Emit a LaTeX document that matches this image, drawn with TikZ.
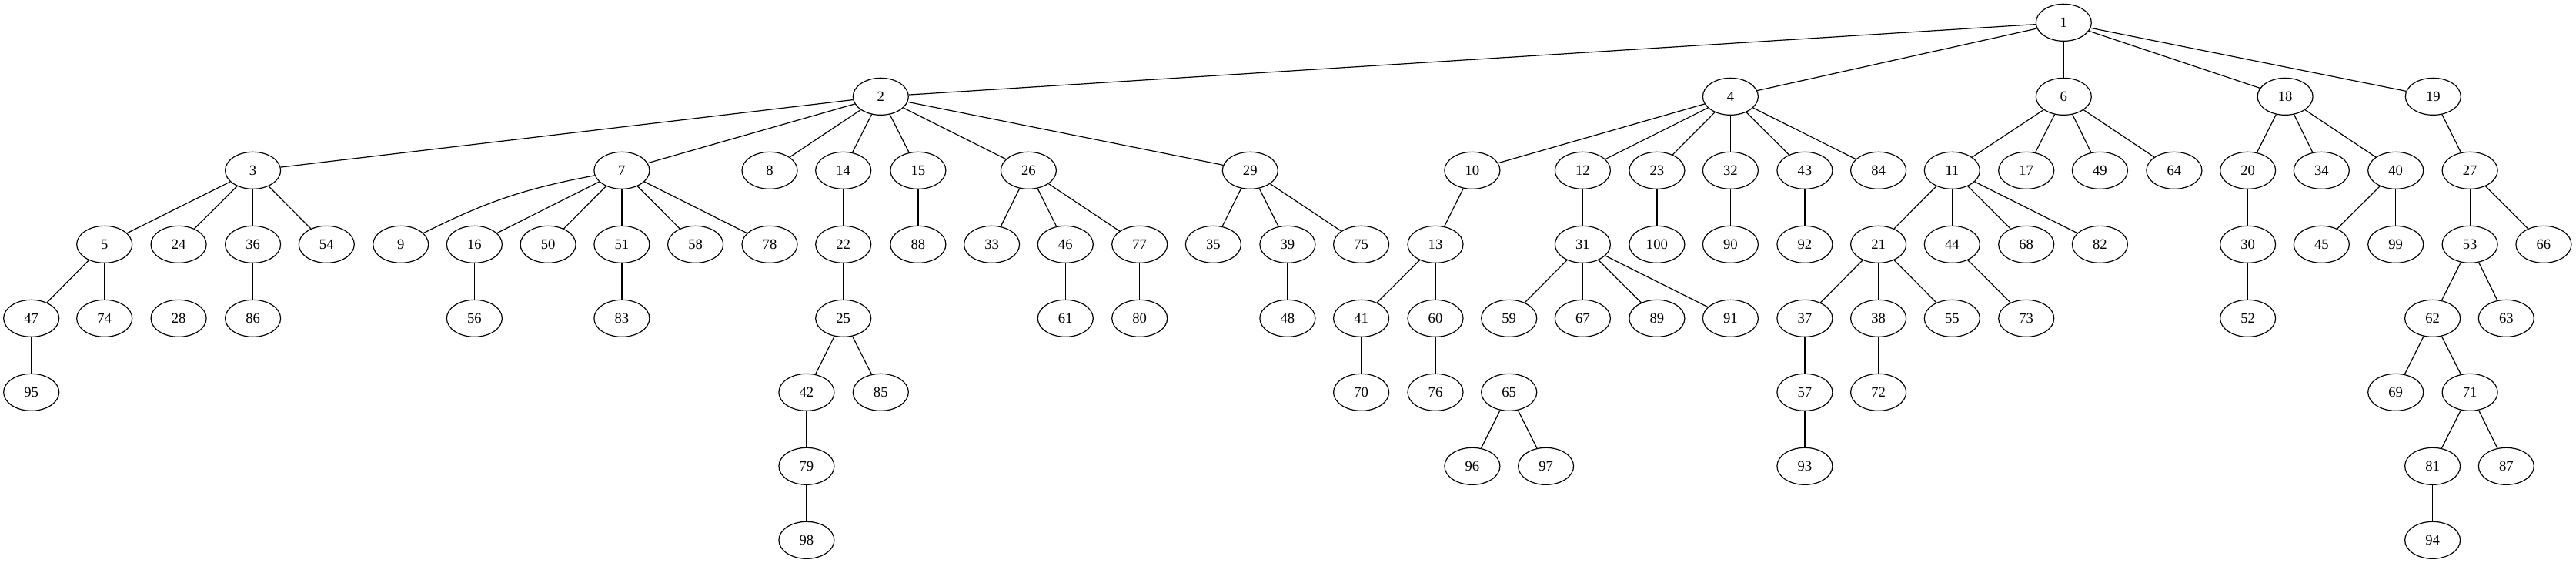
\documentclass[tikz,border=0pt]{standalone}
\usepackage{fontspec}
\setmainfont{Liberation Serif}
\usetikzlibrary{shapes.geometric}
\tikzset{
  gv/.style={ellipse, draw, line width=0.9pt, minimum width=54pt, minimum height=36pt, inner sep=0pt, font=\fontsize{14}{16}\selectfont},
  gvedge/.style={line width=0.9pt}
}
\begin{document}
\begin{tikzpicture}[x=0.75pt, y=-72pt]
\useasboundingbox (0,-0.30556) rectangle (3347,7.3090);
% rank 0
\node[gv] (n1) at (2681.3,0) {1};
% rank 1
\foreach \n/\x in {2/1144.3, 4/2248.4, 6/2681.3, 18/2969.1, 19/3161.3}
  \node[gv] (n\n) at (\x,1) {\n};
% rank 2
\foreach \n/\x in {3/328.6, 7/807.9, 8/1000, 14/1095.7, 15/1192.9, 26/1336.4, 29/1624.3, 10/1912.9, 12/2056.4, 23/2152.9, 32/2248.4, 43/2344.9, 84/2440.6, 11/2536.3, 17/2632.7, 49/2728.4, 64/2824.9, 20/2920.6, 34/3016.3, 40/3112.7, 27/3209.1}
  \node[gv] (n\n) at (\x,2) {\n};
% rank 3
\foreach \n/\x in {5/135.7, 24/232.1, 36/328.6, 54/424.3, 9/520.7, 16/616.4, 50/712.1, 51/807.9, 58/903.6, 78/1000, 22/1095.7, 88/1192.9, 33/1288.6, 46/1384.3, 77/1480.7, 35/1576.4, 39/1672.9, 75/1768.6, 13/1865, 31/2056.4, 100/2152.9, 90/2248.4, 92/2344.9, 21/2440.6, 44/2536.3, 68/2632.7, 82/2728.4, 30/2920.6, 45/3016.3, 99/3112.7, 53/3209.1, 66/3304.9}
  \node[gv] (n\n) at (\x,3) {\n};
% rank 4
\foreach \n/\x in {47/40.7, 74/135.7, 28/232.1, 86/328.6, 56/616.4, 83/807.9, 25/1095.7, 61/1384.3, 80/1480.7, 48/1672.9, 41/1768.6, 60/1865, 59/1960.7, 67/2056.4, 89/2152.9, 91/2248.4, 37/2344.9, 38/2440.6, 55/2536.3, 73/2632.7, 52/2920.6, 62/3160.6, 63/3256.3}
  \node[gv] (n\n) at (\x,4) {\n};
% rank 5
\foreach \n/\x in {95/40.7, 42/1047.9, 85/1144.3, 70/1768.6, 76/1865, 65/1960.7, 57/2344.9, 72/2440.6, 69/3112.7, 71/3209.1}
  \node[gv] (n\n) at (\x,5) {\n};
% rank 6
\foreach \n/\x in {79/1047.9, 96/1912.9, 97/2008.6, 93/2344.9, 81/3160.6, 87/3256.3}
  \node[gv] (n\n) at (\x,6) {\n};
% rank 7
\foreach \n/\x in {98/1047.9, 94/3160.6}
  \node[gv] (n\n) at (\x,7) {\n};
% edges
\foreach \a/\b in {1/2, 1/4, 1/6, 1/18, 1/19,
  2/3, 2/7, 2/8, 2/14, 2/15, 2/26, 2/29,
  3/5, 3/24, 3/36, 3/54, 5/47, 5/74, 47/95, 24/28, 36/86,
  7/16, 7/50, 7/51, 7/58, 7/78, 16/56, 51/83,
  14/22, 22/25, 25/42, 25/85, 42/79, 79/98, 15/88,
  26/33, 26/46, 26/77, 46/61, 77/80, 29/35, 29/39, 29/75, 39/48,
  4/10, 4/12, 4/23, 4/32, 4/43, 4/84, 10/13, 13/41, 13/60, 41/70, 60/76,
  12/31, 31/59, 31/67, 31/89, 31/91, 59/65, 65/96, 65/97, 23/100, 32/90, 43/92,
  6/11, 6/17, 6/49, 6/64, 11/21, 11/44, 11/68, 11/82, 21/37, 21/38, 21/55,
  37/57, 57/93, 38/72, 44/73,
  18/20, 18/34, 18/40, 20/30, 30/52, 40/45, 40/99,
  19/27, 27/53, 27/66, 53/62, 53/63, 62/69, 62/71, 71/81, 71/87, 81/94}
  \draw[gvedge] (n\a) -- (n\b);
\draw[gvedge] (n7) to[bend right=8] (n9);
\end{tikzpicture}
\end{document}
